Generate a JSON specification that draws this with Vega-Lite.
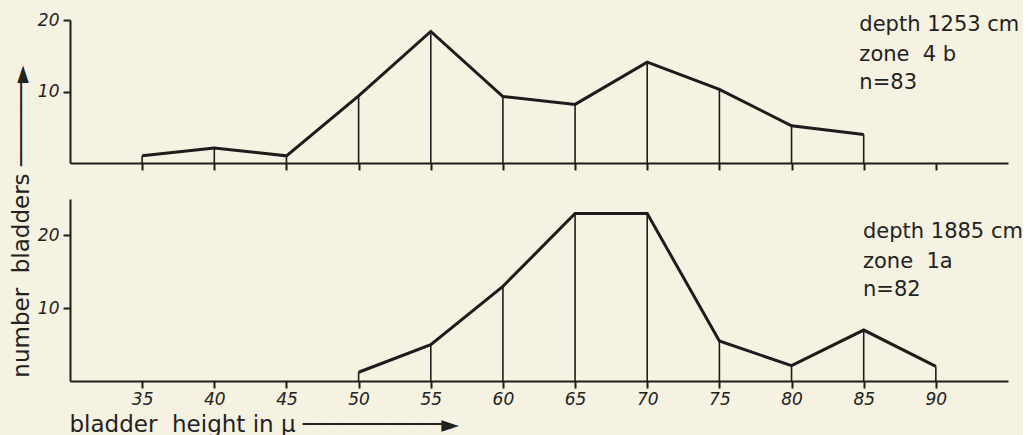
{
  "$schema": "https://vega.github.io/schema/vega-lite/v6.json",
  "background": "#f6f2e1",
  "padding": {"left": 9, "top": 11, "right": 0, "bottom": 0},
  "spacing": 36,
  "bounds": "flush",
  "datasets": {
    "top": [
      {"size": 35, "count": 1.0},
      {"size": 40, "count": 2.1},
      {"size": 45, "count": 1.0},
      {"size": 50, "count": 9.4},
      {"size": 55, "count": 18.4},
      {"size": 60, "count": 9.3},
      {"size": 65, "count": 8.2},
      {"size": 70, "count": 14.1},
      {"size": 75, "count": 10.3},
      {"size": 80, "count": 5.2},
      {"size": 85, "count": 4.0}
    ],
    "bottom": [
      {"size": 50, "count": 1.2},
      {"size": 55, "count": 5.0},
      {"size": 60, "count": 13.0},
      {"size": 65, "count": 23.0},
      {"size": 70, "count": 23.0},
      {"size": 75, "count": 5.5},
      {"size": 80, "count": 2.1},
      {"size": 85, "count": 7.0},
      {"size": 90, "count": 2.0}
    ],
    "topLabels": [
      {"size": 84.7, "count": 19.3, "label": "depth 1253\u00a0cm"},
      {"size": 84.7, "count": 15.1, "label": "zone\u00a0\u00a04\u00a0b"},
      {"size": 84.7, "count": 11.2, "label": "n=83"}
    ],
    "bottomLabels": [
      {"size": 84.95, "count": 20.45, "label": "depth 1885 cm"},
      {"size": 84.95, "count": 16.3, "label": "zone\u00a0\u00a01a"},
      {"size": 84.95, "count": 12.5, "label": "n=82"}
    ]
  },
  "config": {
    "view": {"stroke": null},
    "axis": {
      "grid": false,
      "domainColor": "#1c1c1c",
      "domainWidth": 2,
      "tickColor": "#1c1c1c",
      "tickWidth": 2,
      "tickSize": 7,
      "labelFont": "DejaVu Sans",
      "labelFontStyle": "italic",
      "labelFontSize": 17,
      "labelColor": "#222222",
      "titleFont": "DejaVu Sans",
      "titleFontWeight": "normal",
      "titleFontSize": 23,
      "titleColor": "#222222"
    },
    "text": {"font": "DejaVu Sans", "fontSize": 21, "color": "#222222"}
  },
  "vconcat": [
    {
      "width": 938,
      "height": 143,
      "encoding": {
        "x": {
          "field": "size", "type": "quantitative",
          "scale": {"domain": [30, 95], "nice": false, "zero": false},
          "axis": {"values": [35, 40, 45, 50, 55, 60, 65, 70, 75, 80, 85, 90], "labels": false, "title": null}
        },
        "y": {
          "field": "count", "type": "quantitative",
          "scale": {"domain": [0, 20], "nice": false},
          "axis": {"values": [10, 20], "title": null, "labelPadding": 4}
        }
      },
      "layer": [
        {
          "data": {"name": "top"},
          "mark": {"type": "rule", "color": "#1c1c1c", "strokeWidth": 1.6},
          "encoding": {"y2": {"datum": 0}}
        },
        {
          "data": {"name": "top"},
          "mark": {"type": "line", "color": "#1c1c1c", "strokeWidth": 3}
        },
        {
          "data": {"name": "topLabels"},
          "mark": {"type": "text", "align": "left", "baseline": "middle"},
          "encoding": {"text": {"field": "label"}}
        }
      ]
    },
    {
      "width": 938,
      "height": 182,
      "encoding": {
        "x": {
          "field": "size", "type": "quantitative",
          "scale": {"domain": [30, 95], "nice": false, "zero": false},
          "axis": {
            "values": [35, 40, 45, 50, 55, 60, 65, 70, 75, 80, 85, 90],
            "labelPadding": 3,
            "title": "bladder\u00a0\u00a0height in µ\u00a0──────────►",
            "titleX": -1, "titleY": 43, "titleAlign": "left", "titleBaseline": "middle", "titleAnchor": "start"
          }
        },
        "y": {
          "field": "count", "type": "quantitative",
          "scale": {"domain": [0, 25], "nice": false},
          "axis": {
            "values": [10, 20], "labelPadding": 4,
            "title": "number\u00a0\u00a0bladders\u00a0──────►",
            "titleAngle": 270, "titleX": -49, "titleY": 22, "titleAlign": "center", "titleBaseline": "middle"
          }
        }
      },
      "layer": [
        {
          "data": {"name": "bottom"},
          "mark": {"type": "rule", "color": "#1c1c1c", "strokeWidth": 1.6},
          "encoding": {"y2": {"datum": 0}}
        },
        {
          "data": {"name": "bottom"},
          "mark": {"type": "line", "color": "#1c1c1c", "strokeWidth": 3}
        },
        {
          "data": {"name": "bottomLabels"},
          "mark": {"type": "text", "align": "left", "baseline": "middle"},
          "encoding": {"text": {"field": "label"}}
        }
      ]
    }
  ]
}
